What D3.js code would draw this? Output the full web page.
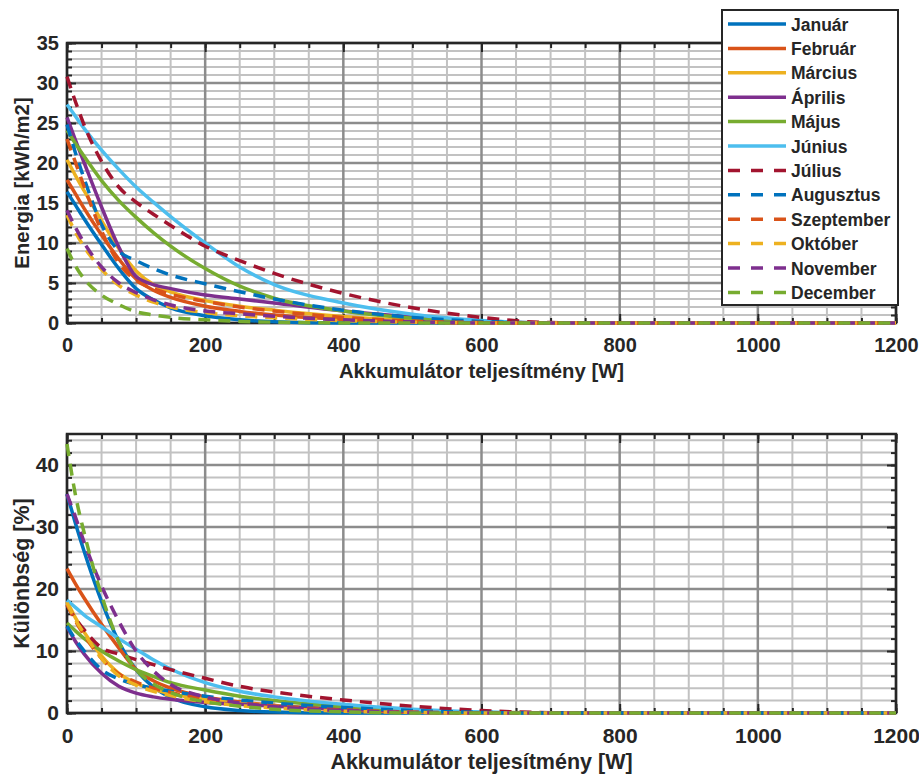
<!DOCTYPE html>
<html>
<head>
<meta charset="utf-8">
<script src="https://cdn.jsdelivr.net/npm/d3@7"></script>
<style>
  html, body { margin: 0; padding: 0; background: #fff; }
  svg { display: block; }
  text { font-family: "Liberation Sans", Arial, sans-serif; font-weight: bold; fill: #262626; }
</style>
</head>
<body>
<svg id="chart" width="919" height="776"></svg>
<script>
// Accumulator power levels (W) at which every monthly series is sampled
const power = [0, 12.5, 25, 50, 75, 100, 125, 150, 200, 250, 300, 400, 500, 600, 700, 800, 1000, 1200];

const months = ["Január", "Február", "Március", "Április", "Május", "Június",
                "Július", "Augusztus", "Szeptember", "Október", "November", "December"];

// Energy [kWh/m2] per month
const energyJan = [16.4, 14.7, 13.0, 9.8, 6.8, 4.3, 2.9, 1.9, 0.9, 0.4, 0.15, 0, 0, 0, 0, 0, 0, 0];
const energyFeb = [17.9, 16.1, 14.3, 11.0, 8.0, 5.5, 4.1, 3.2, 2.1, 1.45, 1.0, 0.45, 0.15, 0, 0, 0, 0, 0];
const energyMar = [20.4, 18.4, 16.5, 12.8, 9.3, 6.5, 4.8, 3.9, 2.8, 2.1, 1.6, 0.8, 0.3, 0.05, 0, 0, 0, 0];
const energyApr = [25.7, 22.8, 20.0, 14.5, 9.5, 5.8, 4.8, 4.3, 3.5, 3.0, 2.5, 1.5, 0.75, 0.25, 0, 0, 0, 0];
const energyMay = [24.1, 22.4, 20.8, 17.8, 15.3, 13.2, 11.3, 9.6, 6.8, 4.6, 3.1, 1.5, 0.6, 0.15, 0, 0, 0, 0];
const energyJun = [27.3, 25.8, 24.3, 21.6, 19.2, 17.0, 15.1, 13.3, 10.0, 7.0, 4.8, 2.5, 1.1, 0.3, 0, 0, 0, 0];
const energyJul = [30.8, 27.6, 24.7, 20.2, 17.0, 15.1, 13.6, 12.2, 9.6, 7.8, 6.2, 3.7, 1.9, 0.7, 0.05, 0, 0, 0];
const energyAug = [24.8, 21.2, 18.0, 12.3, 9.0, 7.8, 6.8, 6.0, 4.9, 3.9, 3.0, 1.6, 0.7, 0.2, 0, 0, 0, 0];
const energySep = [23.0, 20.0, 17.0, 11.5, 7.5, 5.3, 4.3, 3.6, 2.7, 2.0, 1.5, 0.7, 0.25, 0.05, 0, 0, 0, 0];
const energyOct = [13.5, 11.3, 9.5, 6.7, 4.7, 3.5, 2.6, 2.0, 1.3, 0.9, 0.65, 0.3, 0.1, 0, 0, 0, 0, 0];
const energyNov = [14.1, 11.9, 10.0, 7.0, 5.0, 3.8, 2.9, 2.25, 1.5, 1.15, 0.85, 0.4, 0.15, 0, 0, 0, 0, 0];
const energyDec = [9.3, 7.1, 5.5, 3.5, 2.3, 1.4, 1.0, 0.7, 0.4, 0.2, 0.1, 0, 0, 0, 0, 0, 0, 0];

// Difference [%] per month
const diffJan = [35.3, 30.5, 26.0, 18.0, 11.5, 7.0, 4.2, 2.5, 1.0, 0.4, 0.15, 0, 0, 0, 0, 0, 0, 0];
const diffFeb = [23.3, 20.8, 18.5, 14.3, 10.5, 7.0, 5.2, 4.0, 2.6, 1.8, 1.2, 0.5, 0.15, 0, 0, 0, 0, 0];
const diffMar = [18.0, 15.3, 13.0, 9.2, 6.4, 4.8, 3.8, 3.1, 2.2, 1.6, 1.2, 0.6, 0.2, 0, 0, 0, 0, 0];
const diffApr = [13.9, 11.5, 9.5, 6.4, 4.3, 3.2, 2.6, 2.2, 1.7, 1.4, 1.1, 0.6, 0.25, 0.05, 0, 0, 0, 0];
const diffMay = [14.5, 13.2, 12.0, 10.0, 8.4, 7.0, 5.9, 4.9, 3.7, 2.7, 2.0, 1.0, 0.4, 0.1, 0, 0, 0, 0];
const diffJun = [18.2, 17.0, 15.8, 13.9, 12.0, 10.3, 8.6, 7.1, 4.9, 3.5, 2.6, 1.4, 0.6, 0.15, 0, 0, 0, 0];
const diffJul = [17.4, 15.2, 13.4, 10.5, 9.5, 8.6, 7.8, 7.0, 5.6, 4.3, 3.4, 2.1, 1.1, 0.4, 0.05, 0, 0, 0];
const diffAug = [14.0, 11.8, 10.0, 7.0, 5.5, 4.6, 4.0, 3.5, 2.7, 2.1, 1.6, 0.9, 0.4, 0.1, 0, 0, 0, 0];
const diffSep = [17.5, 14.8, 12.5, 8.8, 6.3, 5.0, 4.0, 3.3, 2.3, 1.6, 1.1, 0.5, 0.15, 0, 0, 0, 0, 0];
const diffOct = [17.8, 15.0, 12.8, 8.8, 6.0, 4.5, 3.5, 2.8, 1.8, 1.2, 0.8, 0.3, 0.1, 0, 0, 0, 0, 0];
const diffNov = [35.3, 31.5, 27.5, 20.5, 14.8, 10.0, 6.8, 4.6, 2.6, 1.6, 1.0, 0.4, 0.1, 0, 0, 0, 0, 0];
const diffDec = [43.4, 35.0, 29.0, 19.0, 11.5, 7.0, 4.7, 3.3, 1.8, 1.1, 0.6, 0.2, 0, 0, 0, 0, 0, 0];

const energySeries = [energyJan, energyFeb, energyMar, energyApr, energyMay, energyJun,
                      energyJul, energyAug, energySep, energyOct, energyNov, energyDec];
const diffSeries = [diffJan, diffFeb, diffMar, diffApr, diffMay, diffJun,
                    diffJul, diffAug, diffSep, diffOct, diffNov, diffDec];

// Tick labels
const xTicks = [0, 200, 400, 600, 800, 1000, 1200];
const energyTicks = [0, 5, 10, 15, 20, 25, 30, 35];
const diffTicks = [0, 10, 20, 30, 40];

const palette = ["#0072BD", "#D95319", "#EDB120", "#7E2F8E", "#77AC30", "#4DBEEE", "#A2142F"];
const colorOf = i => palette[i % 7];
const dashOf = i => (i >= 6 ? "12,8" : null);

const svg = d3.select("#chart");
const axisColor = "#262626";

function drawPanel(cfg) {
  const x = d3.scaleLinear().domain([0, 1200]).range([cfg.left, cfg.right]);
  const y = d3.scaleLinear().domain([0, cfg.ymax]).range([cfg.bottom, cfg.top]);
  const g = svg.append("g");

  const xMinor = d3.range(0, 1201, 50);
  const yMinor = d3.range(0, cfg.ymax + 0.001, cfg.yminor);
  const isMajorY = v => Math.abs(v / cfg.ymajor - Math.round(v / cfg.ymajor)) < 1e-6;

  // minor grid
  const grid = g.append("g");
  grid.selectAll(".vminor").data(xMinor.filter(v => v % 200 !== 0)).join("line")
    .attr("x1", d => x(d)).attr("x2", d => x(d))
    .attr("y1", cfg.top).attr("y2", cfg.bottom)
    .attr("stroke", "#c2c2c2").attr("stroke-width", 2);
  grid.selectAll(".hminor").data(yMinor.filter(v => !isMajorY(v))).join("line")
    .attr("x1", cfg.left).attr("x2", cfg.right)
    .attr("y1", d => y(d)).attr("y2", d => y(d))
    .attr("stroke", "#c2c2c2").attr("stroke-width", 2);
  // major grid
  grid.selectAll(".vmajor").data(xTicks).join("line")
    .attr("x1", d => x(d)).attr("x2", d => x(d))
    .attr("y1", cfg.top).attr("y2", cfg.bottom)
    .attr("stroke", "#8c8c8c").attr("stroke-width", 2.5);
  grid.selectAll(".hmajor").data(cfg.ticks).join("line")
    .attr("x1", cfg.left).attr("x2", cfg.right)
    .attr("y1", d => y(d)).attr("y2", d => y(d))
    .attr("stroke", "#8c8c8c").attr("stroke-width", 2.5);

  // axes with inward ticks (major and minor) on all four sides
  const majorX = d3.axisBottom(x).tickValues(xTicks).tickSize(-9).tickPadding(15).tickFormat(d3.format("d"));
  const minorX = d3.axisBottom(x).tickValues(xMinor).tickSize(-5).tickFormat("");
  const majorY = d3.axisLeft(y).tickValues(cfg.ticks).tickSize(-9).tickPadding(8).tickFormat(d3.format("d"));
  const minorY = d3.axisLeft(y).tickValues(yMinor).tickSize(-5).tickFormat("");

  const styleAxis = sel => {
    sel.select(".domain").remove();
    sel.selectAll(".tick line").attr("stroke", axisColor).attr("stroke-width", 2);
    sel.selectAll(".tick text").attr("fill", axisColor).style("font-size", cfg.tickFont + "px");
  };
  g.append("g").attr("transform", `translate(0,${cfg.bottom})`).call(minorX).call(styleAxis);
  g.append("g").attr("transform", `translate(0,${cfg.bottom})`).call(majorX).call(styleAxis);
  g.append("g").attr("transform", `translate(0,${cfg.top})`).call(d3.axisTop(x).tickValues(xMinor).tickSize(-5).tickFormat("")).call(styleAxis);
  g.append("g").attr("transform", `translate(0,${cfg.top})`).call(d3.axisTop(x).tickValues(xTicks).tickSize(-9).tickFormat("")).call(styleAxis);
  g.append("g").attr("transform", `translate(${cfg.left},0)`).call(minorY).call(styleAxis);
  g.append("g").attr("transform", `translate(${cfg.left},0)`).call(majorY).call(styleAxis);
  g.append("g").attr("transform", `translate(${cfg.right},0)`).call(d3.axisRight(y).tickValues(yMinor).tickSize(-5).tickFormat("")).call(styleAxis);
  g.append("g").attr("transform", `translate(${cfg.right},0)`).call(d3.axisRight(y).tickValues(cfg.ticks).tickSize(-9).tickFormat("")).call(styleAxis);

  g.append("rect")
    .attr("x", cfg.left).attr("y", cfg.top)
    .attr("width", cfg.right - cfg.left).attr("height", cfg.bottom - cfg.top)
    .attr("fill", "none").attr("stroke", axisColor).attr("stroke-width", 2.5);

  // monthly curves
  const line = d3.line().x(d => x(d[0])).y(d => y(d[1])).curve(d3.curveMonotoneX);
  g.append("g").selectAll("path").data(cfg.series).join("path")
    .attr("d", vals => line(power.map((p, k) => [p, vals[k]])))
    .attr("fill", "none")
    .attr("stroke", (d, i) => colorOf(i))
    .attr("stroke-width", 3.5)
    .attr("stroke-dasharray", (d, i) => dashOf(i));

  // axis titles
  g.append("text")
    .attr("x", (cfg.left + cfg.right) / 2).attr("y", cfg.xTitleY)
    .attr("text-anchor", "middle").style("font-size", cfg.titleFont + "px")
    .text("Akkumulátor teljesítmény [W]");
  g.append("text")
    .attr("transform", `translate(${cfg.yTitleX},${(cfg.top + cfg.bottom) / 2}) rotate(-90)`)
    .attr("text-anchor", "middle").style("font-size", cfg.titleFont + "px")
    .text(cfg.ylabel);
}

drawPanel({
  left: 67, right: 896, top: 43, bottom: 323,
  ymax: 35, ymajor: 5, yminor: 1, ticks: energyTicks,
  series: energySeries, ylabel: "Energia [kWh/m2]",
  tickFont: 20, titleFont: 20.3, xTitleY: 378, yTitleX: 29
});
drawPanel({
  left: 67, right: 896, top: 434, bottom: 713,
  ymax: 45, ymajor: 10, yminor: 2, ticks: diffTicks,
  series: diffSeries, ylabel: "Különbség [%]",
  tickFont: 21, titleFont: 21.5, xTitleY: 769, yTitleX: 29
});

// legend
const legend = svg.append("g");
legend.append("rect")
  .attr("x", 722).attr("y", 10).attr("width", 176).attr("height", 295)
  .attr("fill", "#fff").attr("stroke", axisColor).attr("stroke-width", 2);
const rows = legend.selectAll("g.row").data(months).join("g")
  .attr("transform", (d, i) => `translate(0,${24 + i * 24.4})`);
rows.append("line")
  .attr("x1", 728).attr("x2", 786).attr("y1", 0).attr("y2", 0)
  .attr("stroke", (d, i) => colorOf(i)).attr("stroke-width", 3.5)
  .attr("stroke-dasharray", (d, i) => (i >= 6 ? "12,11" : null));
rows.append("text")
  .attr("x", 791).attr("y", 6.5)
  .style("font-size", "17.5px")
  .text(d => d);
</script>
</body>
</html>
